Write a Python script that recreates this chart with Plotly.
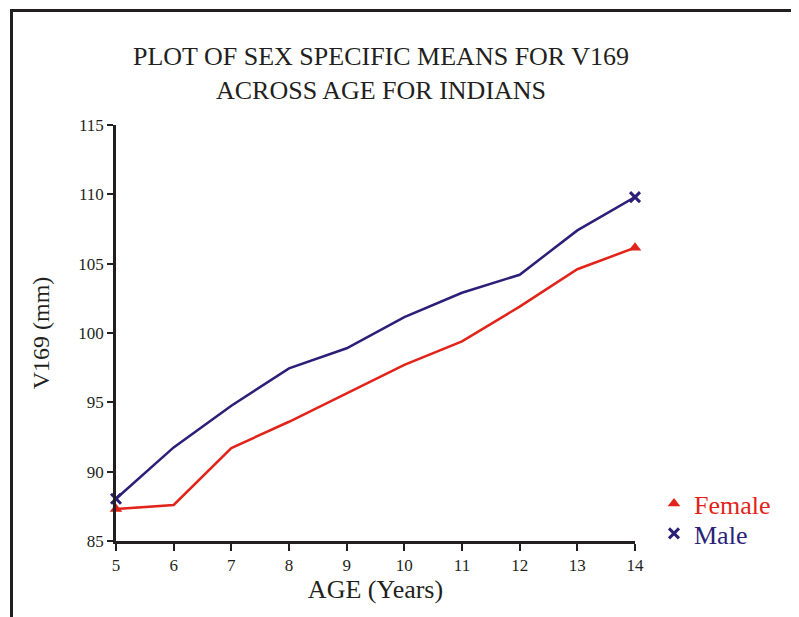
import plotly.graph_objects as go

age = [5, 6, 7, 8, 9, 10, 11, 12, 13, 14]
female = [87.3, 87.6, 91.7, 93.6, 95.65, 97.7, 99.4, 101.9, 104.6, 106.15]
male = [88.05, 91.75, 94.75, 97.45, 98.9, 101.15, 102.9, 104.2, 107.4, 109.8]

red = "#e2231a"
navy = "#2b1f78"
ink = "#231f20"
font = "Liberation Serif, Times New Roman, serif"

# the page puts the figure 8px in from the corner, so work in page pixels and shift
OFF = 8
W, H = 799 - OFF, 617 - OFF
L, T = 116 - OFF, 125 - OFF
pw, ph = 519, 416
R, B = W - L - pw, H - T - ph


def px(x):
    return (x - OFF - L) / pw


def py(y):
    return (H - B - (y - OFF)) / ph


fig = go.Figure()

fig.add_trace(go.Scatter(x=age, y=female, mode="lines", line=dict(color=red, width=2.5),
                         showlegend=False, cliponaxis=False))
fig.add_trace(go.Scatter(x=age, y=male, mode="lines", line=dict(color=navy, width=2.5),
                         showlegend=False, cliponaxis=False))
# end markers (also used for the legends)
fig.add_trace(go.Scatter(x=[age[0], age[-1]], y=[female[0], female[-1]], mode="markers",
                         name="<span style='color:%s'>Female</span>" % red,
                         marker=dict(symbol="triangle-up", size=11, color=red),
                         cliponaxis=False, legend="legend"))
fig.add_trace(go.Scatter(x=[age[0], age[-1]], y=[male[0], male[-1]], mode="markers",
                         name="<span style='color:%s'>Male</span>" % navy,
                         marker=dict(symbol="x-thin", size=10, color=navy,
                                     line=dict(color=navy, width=3)),
                         cliponaxis=False, legend="legend2"))

leg = dict(x=px(654), xanchor="left", yanchor="top", font=dict(size=26, family=font),
           itemwidth=30, bgcolor="rgba(0,0,0,0)")

fig.update_layout(
    width=W, height=H,
    margin=dict(l=L, r=R, t=T, b=B),
    paper_bgcolor="white", plot_bgcolor="white",
    font=dict(family=font, color=ink),
    title=dict(text="PLOT OF SEX SPECIFIC MEANS FOR V169<br>ACROSS AGE FOR INDIANS",
               xref="paper", x=px(381), xanchor="center",
               y=1 - (65 - OFF) / H, yanchor="middle",
               font=dict(size=26, family=font, color=ink)),
    legend=dict(leg, y=py(480)),
    legend2=dict(leg, y=py(510)),
    shapes=[
        dict(type="line", xref="paper", yref="paper", x0=px(11.5), x1=px(W + 20),
             y0=py(10.5), y1=py(10.5), line=dict(color=ink, width=3)),
        dict(type="line", xref="paper", yref="paper", x0=px(11.5), x1=px(11.5),
             y0=py(9), y1=py(H + 20), line=dict(color=ink, width=3)),
    ],
)

fig.update_xaxes(range=[5, 14], dtick=1, showgrid=False, zeroline=False,
                 showline=True, linecolor=ink, linewidth=2.5,
                 ticks="outside", ticklen=7, tickwidth=2, tickcolor=ink,
                 tickfont=dict(size=17, family=font),
                 title=dict(text="AGE (Years)", font=dict(size=26, family=font), standoff=3))
fig.update_yaxes(range=[85, 115], dtick=5, showgrid=False, zeroline=False,
                 showline=True, linecolor=ink, linewidth=2.5,
                 ticks="outside", ticklen=6, tickwidth=2, tickcolor=ink,
                 tickfont=dict(size=17, family=font),
                 title=dict(text="V169 (mm)", font=dict(size=24, family=font), standoff=22))

fig.write_html("out.html")
